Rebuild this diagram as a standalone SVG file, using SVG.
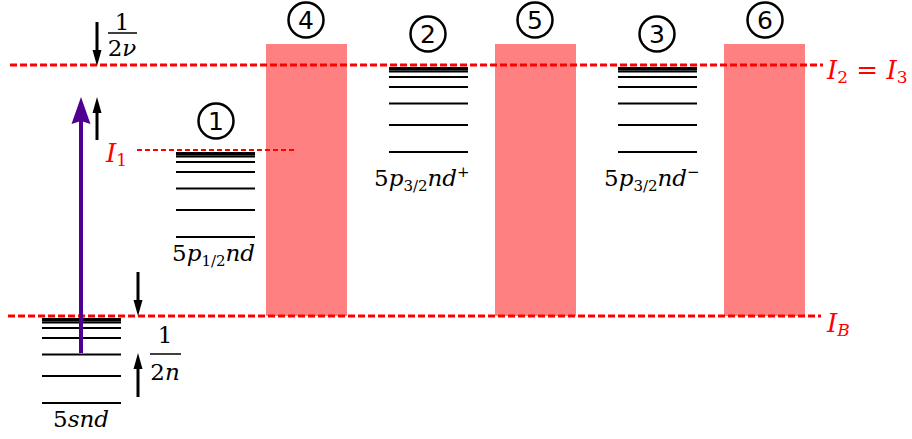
<svg xmlns="http://www.w3.org/2000/svg" width="912" height="439" viewBox="0 0 912 439">
<style>
.cont{fill:#ff8080;stroke:none}
.lvl{stroke:#000;stroke-width:2;fill:none}
.lim{stroke:#ff0000;stroke-width:3;stroke-dasharray:7 3;fill:none}
.lim1{stroke:#ff0000;stroke-width:2;stroke-dasharray:5 3;fill:none}
.circ{fill:none;stroke:#000;stroke-width:2.5}
.ar{stroke:#000;stroke-width:3;fill:none}
.bar{stroke:#000;stroke-width:1.5}
</style>

<g id="continua">
<rect id="c4" class="cont" x="266" y="44" width="81" height="272"/>
<rect id="c5" class="cont" x="495" y="44" width="81" height="272"/>
<rect id="c6" class="cont" x="724" y="44" width="81" height="272"/>
</g>

<g font-family="'DejaVu Serif', serif" font-size="23" fill="#000">
<g id="series-5snd">
<g transform="translate(42,316)">
<line class="lvl" x1="0" x2="79" y1="87" y2="87"/>
<line class="lvl" x1="0" x2="79" y1="60" y2="60"/>
<line class="lvl" x1="0" x2="79" y1="38.5" y2="38.5"/>
<line class="lvl" x1="0" x2="79" y1="22" y2="22"/>
<line class="lvl" x1="0" x2="79" y1="12" y2="12"/>
<line class="lvl" x1="0" x2="79" y1="6.5" y2="6.5"/>
<line class="lvl" x1="0" x2="79" y1="4.5" y2="4.5"/>
<line class="lvl" x1="0" x2="79" y1="3" y2="3"/>
</g>
<text x="81" y="427" text-anchor="middle">5<tspan font-style="italic">snd</tspan></text>
</g>

<g id="series-1">
<g transform="translate(176,150)">
<line class="lvl" x1="0" x2="79" y1="87" y2="87"/>
<line class="lvl" x1="0" x2="79" y1="60" y2="60"/>
<line class="lvl" x1="0" x2="79" y1="38.5" y2="38.5"/>
<line class="lvl" x1="0" x2="79" y1="22" y2="22"/>
<line class="lvl" x1="0" x2="79" y1="12" y2="12"/>
<line class="lvl" x1="0" x2="79" y1="6.5" y2="6.5"/>
<line class="lvl" x1="0" x2="79" y1="4.5" y2="4.5"/>
<line class="lvl" x1="0" x2="79" y1="3" y2="3"/>
</g>
<text x="172" y="261">5<tspan font-style="italic">p</tspan><tspan font-size="15" dy="5">1/2</tspan><tspan font-style="italic" dy="-5">nd</tspan></text>
</g>

<g id="series-2">
<g transform="translate(389,65)">
<line class="lvl" x1="0" x2="79" y1="87" y2="87"/>
<line class="lvl" x1="0" x2="79" y1="60" y2="60"/>
<line class="lvl" x1="0" x2="79" y1="38.5" y2="38.5"/>
<line class="lvl" x1="0" x2="79" y1="22" y2="22"/>
<line class="lvl" x1="0" x2="79" y1="12" y2="12"/>
<line class="lvl" x1="0" x2="79" y1="6.5" y2="6.5"/>
<line class="lvl" x1="0" x2="79" y1="4.5" y2="4.5"/>
<line class="lvl" x1="0" x2="79" y1="3" y2="3"/>
</g>
<text x="374" y="186">5<tspan font-style="italic">p</tspan><tspan font-size="15" dy="5">3/2</tspan><tspan font-style="italic" dy="-5">nd</tspan><tspan font-size="15" dy="-9">+</tspan></text>
</g>

<g id="series-3">
<g transform="translate(618,65)">
<line class="lvl" x1="0" x2="79" y1="87" y2="87"/>
<line class="lvl" x1="0" x2="79" y1="60" y2="60"/>
<line class="lvl" x1="0" x2="79" y1="38.5" y2="38.5"/>
<line class="lvl" x1="0" x2="79" y1="22" y2="22"/>
<line class="lvl" x1="0" x2="79" y1="12" y2="12"/>
<line class="lvl" x1="0" x2="79" y1="6.5" y2="6.5"/>
<line class="lvl" x1="0" x2="79" y1="4.5" y2="4.5"/>
<line class="lvl" x1="0" x2="79" y1="3" y2="3"/>
</g>
<text x="604" y="186">5<tspan font-style="italic">p</tspan><tspan font-size="15" dy="5">3/2</tspan><tspan font-style="italic" dy="-5">nd</tspan><tspan font-size="15" dy="-9">−</tspan></text>
</g>

<g id="limits" fill="#ff0000" font-size="26">
<line class="lim" x1="10" x2="823" y1="65" y2="65"/>
<line class="lim" x1="8" x2="821" y1="316" y2="316"/>
<line class="lim1" x1="137" x2="296" y1="150" y2="150"/>
<text x="106" y="162"><tspan font-style="italic">I</tspan><tspan font-size="17" dy="4">1</tspan></text>
<text x="827" y="79"><tspan font-style="italic">I</tspan><tspan font-size="17" dy="4">2</tspan><tspan dy="-4"> = </tspan><tspan font-style="italic">I</tspan><tspan font-size="17" dy="4">3</tspan></text>
<text x="827" y="332"><tspan font-style="italic">I</tspan><tspan font-size="17" dy="4" font-style="italic">B</tspan></text>
</g>

<g id="fractions">
<text x="122" y="30" text-anchor="middle">1</text>
<line class="bar" x1="108" x2="137" y1="33" y2="33"/>
<text x="122" y="56" text-anchor="middle">2<tspan font-style="italic">ν</tspan></text>
<text x="165" y="343" text-anchor="middle">1</text>
<line class="bar" x1="150" x2="181" y1="354" y2="354"/>
<text x="165" y="380" text-anchor="middle">2<tspan font-style="italic">n</tspan></text>
</g>
</g>

<g id="labels" font-family="'DejaVu Sans', sans-serif" font-size="25" text-anchor="middle" fill="#000">
<g id="n1"><circle class="circ" cx="216" cy="121" r="17.5"/><text x="216" y="130">1</text></g>
<g id="n2"><circle class="circ" cx="428" cy="34" r="17.5"/><text x="428" y="43">2</text></g>
<g id="n3"><circle class="circ" cx="657" cy="34" r="17.5"/><text x="657" y="43">3</text></g>
<g id="n4"><circle class="circ" cx="306" cy="20" r="17.5"/><text x="306" y="29">4</text></g>
<g id="n5"><circle class="circ" cx="535" cy="20" r="17.5"/><text x="535" y="29">5</text></g>
<g id="n6"><circle class="circ" cx="765" cy="20" r="17.5"/><text x="765" y="29">6</text></g>
</g>

<g id="connectors">
<line x1="81" y1="353" x2="81" y2="120" stroke="#500090" stroke-width="4"/>
<polygon points="81,97 71.5,124 81,121 90.5,124" fill="#500090"/>
<line class="ar" x1="97" y1="22" x2="97" y2="54"/>
<polygon points="97,66 92.5,50 101.5,50" fill="#000"/>
<line class="ar" x1="97" y1="140" x2="97" y2="108"/>
<polygon points="97,97 92.5,113 101.5,113" fill="#000"/>
<line class="ar" x1="138" y1="272" x2="138" y2="304"/>
<polygon points="138,316 133.5,300 142.5,300" fill="#000"/>
<line class="ar" x1="138" y1="397" x2="138" y2="365"/>
<polygon points="138,353 133.5,369 142.5,369" fill="#000"/>
</g>
</svg>
